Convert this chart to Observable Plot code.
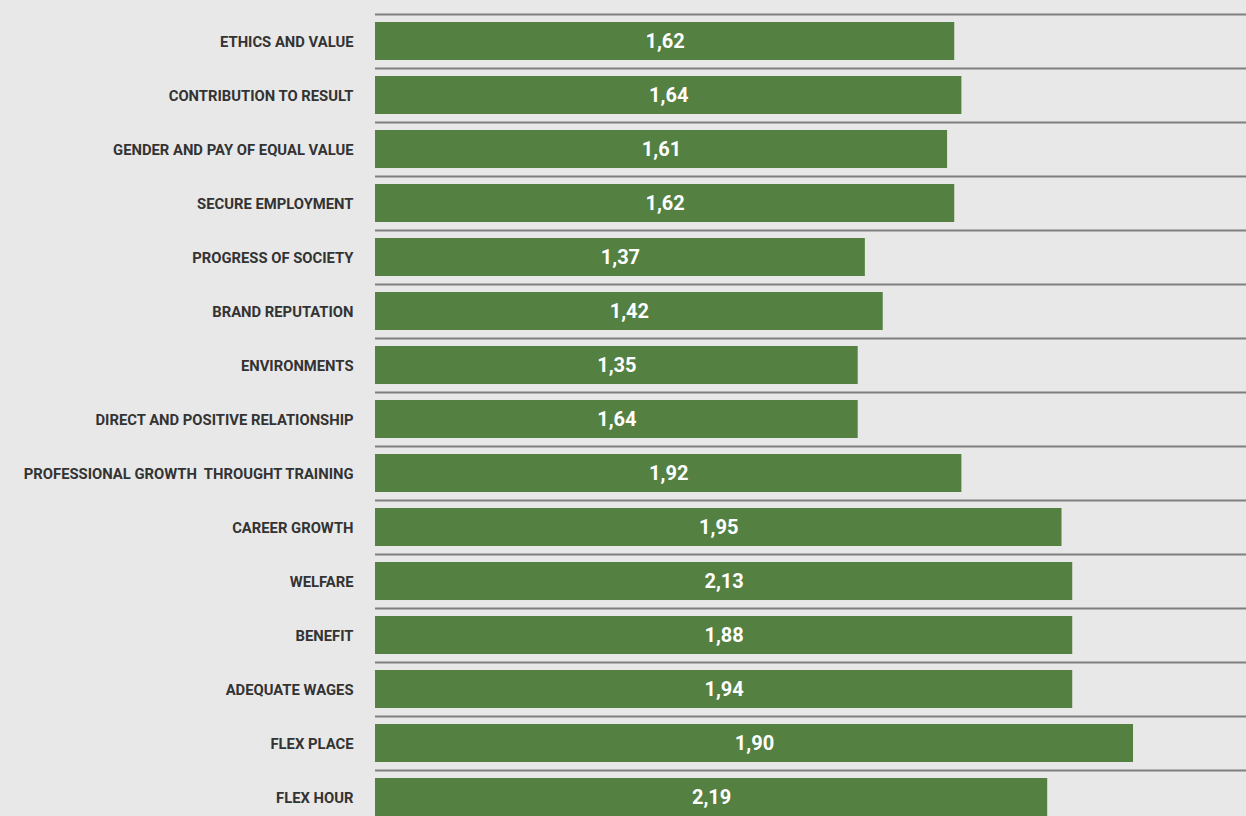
<!DOCTYPE html>
<html>
<head>
<meta charset="utf-8">
<script src="https://cdn.jsdelivr.net/npm/d3@7"></script>
<script src="https://cdn.jsdelivr.net/npm/@observablehq/plot@0.6"></script>
<style>
  html, body { margin: 0; padding: 0; background: #e8e8e8; overflow: hidden; }
  #chart svg { display: block; }
</style>
</head>
<body>
<div id="chart"></div>
<script>
const categories = [
  "ETHICS AND VALUE",
  "CONTRIBUTION TO RESULT",
  "GENDER AND PAY OF EQUAL VALUE",
  "SECURE EMPLOYMENT",
  "PROGRESS OF SOCIETY",
  "BRAND REPUTATION",
  "ENVIRONMENTS",
  "DIRECT AND POSITIVE RELATIONSHIP",
  "PROFESSIONAL GROWTH  THROUGHT TRAINING",
  "CAREER GROWTH",
  "WELFARE",
  "BENEFIT",
  "ADEQUATE WAGES",
  "FLEX PLACE",
  "FLEX HOUR"
];
// bar lengths as drawn in the reference
const barValues = [1.62, 1.64, 1.60, 1.62, 1.37, 1.42, 1.35, 1.35, 1.64, 1.92, 1.95, 1.95, 1.95, 2.12, 1.88];
// values printed inside the bars
const labelValues = [1.62, 1.64, 1.61, 1.62, 1.37, 1.42, 1.35, 1.64, 1.92, 1.95, 2.13, 1.88, 1.94, 1.90, 2.19];
const xMax = 2.436;

const data = categories.map((c, i) => ({
  cat: c,
  bar: barValues[i],
  label: labelValues[i].toFixed(2).replace(".", ",")
}));

const chart = Plot.plot({
  width: 1246,
  height: 824,
  marginTop: 14,
  marginBottom: 0,
  marginLeft: 375,
  marginRight: 0,
  style: { background: "#e8e8e8", fontFamily: "Roboto, sans-serif" },
  x: { domain: [0, xMax], axis: null },
  y: { domain: categories, padding: 0, label: null },
  marks: [
    Plot.ruleY(data, { y: "cat", stroke: "#7f7f7f", strokeWidth: 2, dy: -27 }),
    Plot.barX(data, { y: "cat", x: "bar", fill: "#548041", insetTop: 8, insetBottom: 8 }),
    Plot.text(data, {
      y: "cat", x: d => d.bar / 2, text: "label",
      fill: "white", fontSize: 20, fontWeight: 700
    }),
    Plot.axisY({
      tickSize: 0, tickPadding: 22, fontSize: 14.8, fontWeight: 700,
      fill: "#333333", label: null, dy: 1
    })
  ]
});
document.getElementById("chart").appendChild(chart);
</script>
</body>
</html>
